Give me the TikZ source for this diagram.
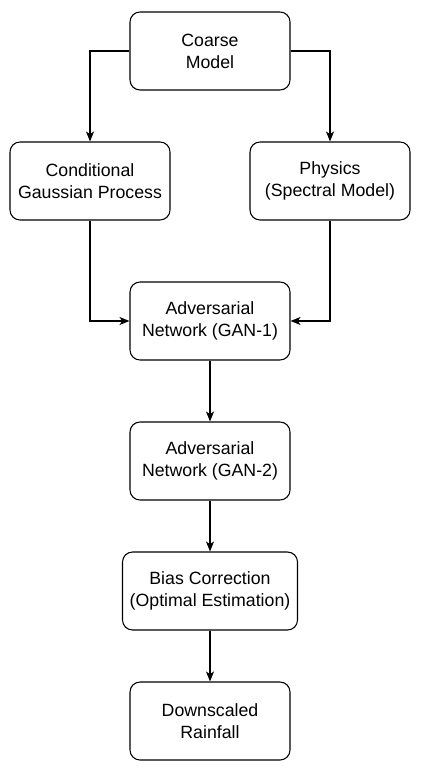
\documentclass[tikz,border=0pt]{standalone}
\usepackage{fontspec}
\setmainfont{Liberation Sans}
\usetikzlibrary{arrows.meta}
\tikzset{
  box/.style={draw, thick, rounded corners=7.5pt, minimum width=120pt, minimum height=58.5pt,
    align=center, font=\fontsize{13.3}{16.5}\selectfont, inner sep=0pt},
  flow/.style={thick, -{Stealth[length=7.5pt, width=6pt, inset=2pt]}}
}
\begin{document}
\begin{tikzpicture}[x=0.75pt, y=-0.75pt]
\useasboundingbox (0,0) rectangle (423,773);

\node[box] (coarse) at (210,51) {Coarse\\Model};
\node[box] (cgp) at (90,181) {Conditional\\Gaussian Process};
\node[box] (phys) at (330,181) {Physics\\(Spectral Model)};
\node[box] (gan1) at (210,321) {Adversarial\\Network (GAN-1)};
\node[box] (gan2) at (210,461) {Adversarial\\Network (GAN-2)};
\node[box, minimum width=131.25pt] (bias) at (210,591) {Bias Correction\\(Optimal Estimation)};
\node[box] (rain) at (210,721) {Downscaled\\Rainfall};

\draw[flow] (coarse.west) -| (cgp.north);
\draw[flow] (coarse.east) -| (phys.north);
\draw[flow] (cgp.south) |- (gan1.west);
\draw[flow] (phys.south) |- (gan1.east);
\draw[flow] (gan1) -- (gan2);
\draw[flow] (gan2) -- (bias);
\draw[flow] (bias) -- (rain);
\end{tikzpicture}
\end{document}
